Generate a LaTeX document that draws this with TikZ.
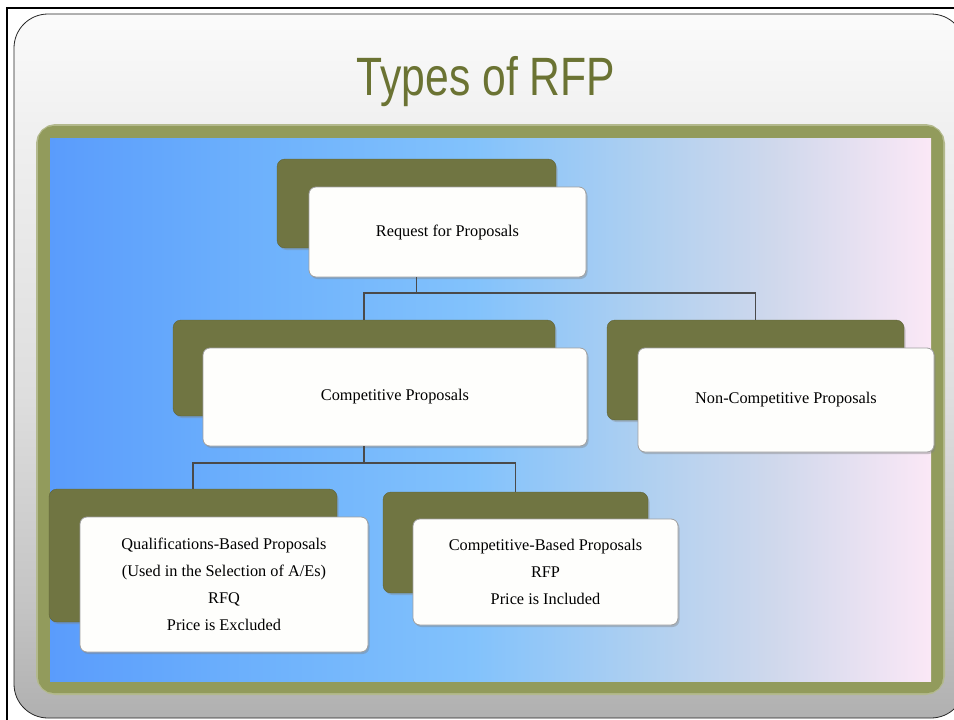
\documentclass[tikz,border=0pt]{standalone}
\usepackage{graphicx}
\usepackage{fontspec}
\setmainfont{Liberation Serif}
\newfontfamily\titlefont{Liberation Sans}
\usetikzlibrary{shadows}
\definecolor{olivebox}{HTML}{707542}
\definecolor{olivetitle}{HTML}{6B7333}
\definecolor{oliveframe}{HTML}{929B5C}
\definecolor{bgA}{HTML}{5A9CFC}
\definecolor{bgB}{HTML}{6CB0FC}
\definecolor{bgC}{HTML}{82C2FC}
\definecolor{bgD}{HTML}{B0D0F0}
\definecolor{bgE}{HTML}{CFD8EC}
\definecolor{bgF}{HTML}{FBE8F6}
\definecolor{pT}{HTML}{FBFBFB}
\definecolor{pU}{HTML}{F0F0F0}
\definecolor{pM}{HTML}{DEDEDE}
\definecolor{pL}{HTML}{C4C4C4}
\definecolor{pB}{HTML}{B0B0B0}
\definecolor{connc}{HTML}{4A4A4A}
\definecolor{boxwhite}{HTML}{FEFEFC}
\pgfdeclarehorizontalshading{bgshade}{100bp}{color(0bp)=(bgA); color(25bp)=(bgA); color(36bp)=(bgB); color(49bp)=(bgC); color(59bp)=(bgD); color(66bp)=(bgE); color(75bp)=(bgF); color(100bp)=(bgF)}
\pgfdeclareverticalshading{panelshade}{100bp}{color(0bp)=(pB); color(25bp)=(pB); color(33bp)=(pL); color(48bp)=(pM); color(67bp)=(pU); color(75bp)=(pT); color(100bp)=(pT)}
\tikzset{
  olivebg/.style={fill=olivebox, draw=olivebox!85!black, rounded corners=8pt, inner sep=0pt,
    drop shadow={shadow xshift=1.5pt, shadow yshift=-2pt, opacity=0.35}},
  whitebox/.style={fill=boxwhite, draw=gray!75, line width=0.8pt, rounded corners=7pt, inner sep=0pt,
    align=center, font=\fontsize{16.3}{27}\selectfont,
    drop shadow={shadow xshift=1.5pt, shadow yshift=-2pt, opacity=0.4}},
  conn/.style={draw=connc, line width=1.3pt}
}
\begin{document}
\begin{tikzpicture}[x=1pt, y=-1pt]
\useasboundingbox (0,0) rectangle (954,720);
\clip (0,0) rectangle (954,720);
\fill[white] (0,0) rectangle (954,720);
% outer black frame
\draw[black, line width=2pt] (7,8) rectangle (980,740);
% panel
\shade[shading=panelshade, rounded corners=34pt] (14,14) rectangle (965,718);
\draw[gray!30!black, line width=0.8pt, rounded corners=34pt] (14,14) rectangle (965,718);
% olive frame and gradient
\draw[oliveframe!70, line width=16pt, rounded corners=12pt] (44,132) rectangle (937,687);
\draw[oliveframe, line width=12pt, rounded corners=10pt] (44,132) rectangle (937,687);
\shade[shading=bgshade] (50,138) rectangle (931,681);
% title
\node[font=\titlefont\fontsize{54}{60}\selectfont, text=olivetitle, anchor=base, inner sep=0pt] (title) at (486,95) {\scalebox{0.79}[1]{Types of RFP}};
% coordinates for buses
\coordinate (b1) at (0,293);
\coordinate (b2) at (0,463);
% boxes: olive backs
\node[olivebg, minimum width=279pt, minimum height=89pt] (rootO) at (416.5,203.5) {};
\node[olivebg, minimum width=382pt, minimum height=96pt] (compO) at (364,368) {};
\node[olivebg, minimum width=297pt, minimum height=100pt] (noncompO) at (755.5,370) {};
\node[olivebg, minimum width=288pt, minimum height=133pt] (qualO) at (193,555.5) {};
\node[olivebg, minimum width=265pt, minimum height=101pt] (cbO) at (515.5,542.5) {};
% connectors
\draw[conn] (compO.north) |- (rootO.south |- b1) -| (noncompO.north);
\draw[conn] (qualO.north) |- (compO.south |- b2) -| (cbO.north);
% white fronts
\node[whitebox, minimum width=277pt, minimum height=90pt] (root) at (447.5,232) {Request for Proposals};
\node[whitebox, minimum width=384pt, minimum height=98pt] (comp) at (395,397) {Competitive Proposals};
\node[whitebox, minimum width=296pt, minimum height=104pt] (noncomp) at (786,400) {Non-Competitive Proposals};
\node[whitebox, minimum width=288pt, minimum height=135pt] (qual) at (224,584.5) {Qualifications-Based Proposals\\(Used in the Selection of A/Es)\\RFQ\\Price is Excluded};
\node[whitebox, minimum width=265pt, minimum height=106pt] (cb) at (545.5,572) {Competitive-Based Proposals\\RFP\\Price is Included};
% connector stubs from white fronts down to buses
\draw[conn] (rootO.south |- root.south) -- (rootO.south |- b1);
\draw[conn] (compO.south |- comp.south) -- (compO.south |- b2);
\end{tikzpicture}
\end{document}
